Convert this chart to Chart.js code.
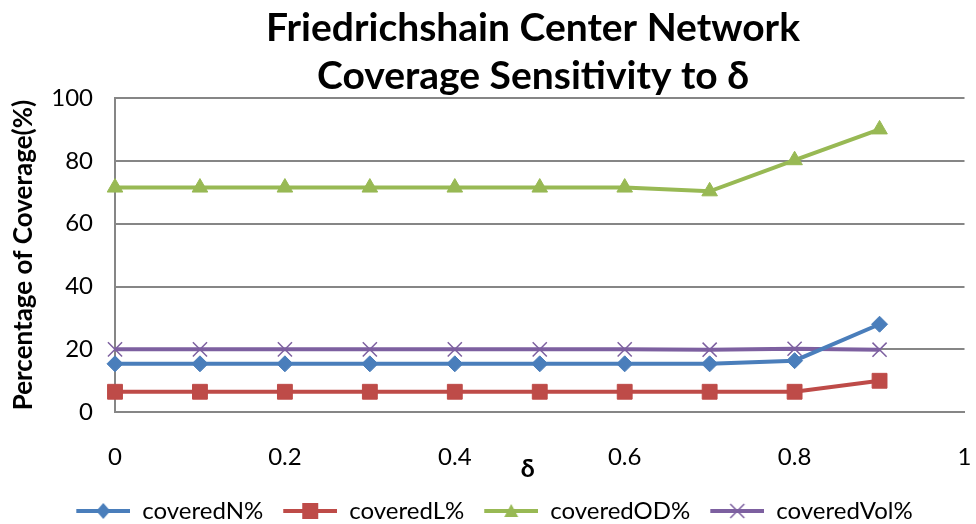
<!DOCTYPE html>
<html>
<head>
<meta charset="utf-8">
<script src="https://cdn.jsdelivr.net/npm/chart.js@4/dist/chart.umd.min.js"></script>
<style>
html,body{margin:0;padding:0;background:#fff;}
#wrap{width:976px;height:524px;position:relative;}
</style>
</head>
<body>
<div id="wrap"><canvas id="c" width="976" height="524"></canvas></div>
<script>
// delta values on the x axis
const deltas = [0, 0.1, 0.2, 0.3, 0.4, 0.5, 0.6, 0.7, 0.8, 0.9];
const coveredN   = [15.4, 15.4, 15.4, 15.4, 15.4, 15.4, 15.4, 15.4, 16.4, 28.0];
const coveredL   = [6.5, 6.5, 6.5, 6.5, 6.5, 6.5, 6.5, 6.5, 6.5, 10.0];
const coveredOD  = [71.5, 71.5, 71.5, 71.5, 71.5, 71.5, 71.5, 70.3, 80.2, 90.0];
const coveredVol = [20.0, 20.0, 20.0, 20.0, 20.0, 20.0, 20.0, 19.9, 20.2, 19.9];
const titleLines = ['Friedrichshain Center Network', 'Coverage Sensitivity to δ'];
const xTitle = 'δ';

const FONT = 'Lato, "Open Sans", sans-serif';
const pts = arr => arr.map((v,i)=>({x:deltas[i], y:v}));

// legend icon: short line with the marker on top (blank strip on the left spaces the items)
const ICON_GAP = 20, ICON_W = 54;
function legendIcon(color, style){
  const cv = document.createElement('canvas');
  cv.width = ICON_GAP + ICON_W; cv.height = 18;
  const g = cv.getContext('2d');
  g.strokeStyle = color; g.lineWidth = 4;
  g.beginPath(); g.moveTo(ICON_GAP,9); g.lineTo(ICON_GAP+ICON_W,9); g.stroke();
  g.fillStyle = color;
  const cx = ICON_GAP + ICON_W/2, cy = 9;
  g.beginPath();
  if(style==='rectRot'){ g.moveTo(cx,cy-8); g.lineTo(cx+7,cy); g.lineTo(cx,cy+8); g.lineTo(cx-7,cy); g.closePath(); g.fill(); }
  else if(style==='rect'){ g.fillRect(cx-8,cy-8,16,16); }
  else if(style==='triangle'){ g.moveTo(cx,cy-7); g.lineTo(cx+7,cy+6); g.lineTo(cx-7,cy+6); g.closePath(); g.fill(); }
  else if(style==='crossRot'){ g.lineWidth=1.5; g.moveTo(cx-7,cy-7); g.lineTo(cx+7,cy+7); g.moveTo(cx+7,cy-7); g.lineTo(cx-7,cy+7); g.stroke(); }
  return cv;
}

const series = [
  {label:'coveredN%',   data:coveredN,   color:'#4a7ebb', style:'rectRot',  r:8},
  {label:'coveredL%',   data:coveredL,   color:'#be4b48', style:'rect',     r:10.5},
  {label:'coveredOD%',  data:coveredOD,  color:'#98b954', style:'triangle', r:9},
  {label:'coveredVol%', data:coveredVol, color:'#7d60a0', style:'crossRot', r:10}
];

// two-line title over the plot area and the δ axis name between the tick labels
const textPlugin = {
  id:'textPlugin',
  afterDraw(chart){
    const {ctx, chartArea} = chart;
    ctx.save();
    ctx.fillStyle = '#000';
    ctx.textAlign = 'center';
    ctx.textBaseline = 'middle';
    ctx.font = 'bold 39px ' + FONT;
    ctx.fillText(titleLines[0], 533, 28);
    ctx.fillText(titleLines[1], 533, 76);
    ctx.font = 'bold 25px ' + FONT;
    ctx.fillText(xTitle, (chartArea.left + chartArea.right)/2 - 12, chartArea.bottom + 57);
    ctx.restore();
  }
};

new Chart(document.getElementById('c'), {
  type:'line',
  data:{
    datasets: series.map(s=>({
      label:s.label, data:pts(s.data),
      borderColor:s.color, backgroundColor:s.color,
      pointStyle:s.style, pointRadius:s.r, pointHoverRadius:s.r,
      pointBorderColor:s.color, pointBackgroundColor:s.color,
      pointBorderWidth:s.style==='crossRot'?1.5:1,
      borderWidth:4, tension:0, clip:false,
      legendIcon:legendIcon(s.color, s.style)
    }))
  },
  options:{
    responsive:false, animation:false,
    layout:{padding:{left:4, right:11, top:98, bottom:-9}},
    plugins:{
      title:{display:false},
      legend:{position:'bottom',
        labels:{color:'#000', font:{family:FONT, size:24}, usePointStyle:true, pointStyleWidth:ICON_GAP+ICON_W, padding:0,
          generateLabels(chart){
            return chart.data.datasets.map((d,i)=>({
              text:d.label, pointStyle:d.legendIcon, fillStyle:d.borderColor,
              strokeStyle:d.borderColor, lineWidth:0, hidden:false, datasetIndex:i, fontColor:'#000'
            }));
          }}},
      tooltip:{enabled:false}
    },
    scales:{
      x:{type:'linear', min:0, max:1,
        ticks:{stepSize:0.2, color:'#000', font:{family:FONT, size:24}, padding:31,
          callback:v=>Number(v.toFixed(1)).toString()},
        grid:{display:false, drawTicks:false},
        border:{display:true, color:'#868686', width:2},
        afterFit(scale){ scale.paddingLeft = 0; scale.paddingRight = 0; scale.height -= 4; }},
      y:{min:0, max:100,
        ticks:{stepSize:20, color:'#000', font:{family:FONT, size:24}, padding:22},
        grid:{color:'#868686', lineWidth:2, drawTicks:false},
        border:{display:true, color:'#868686', width:2},
        title:{display:true, text:'Percentage of Coverage(%)', color:'#000', font:{family:FONT, size:26, weight:'bold'}, padding:{bottom:2}},
        afterFit(scale){ scale.width = 111; }}
    }
  },
  plugins:[textPlugin]
});
</script>
</body>
</html>
